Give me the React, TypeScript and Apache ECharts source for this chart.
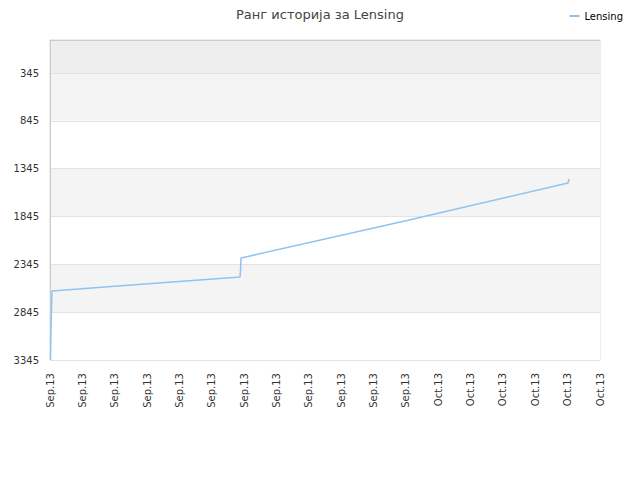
import React, { useEffect, useRef } from "react";
import * as echarts from "echarts";

const xLabels = [
  "Sep.13", "Sep.13", "Sep.13", "Sep.13", "Sep.13", "Sep.13",
  "Sep.13", "Sep.13", "Sep.13", "Sep.13", "Sep.13", "Sep.13",
  "Oct.13", "Oct.13", "Oct.13", "Oct.13", "Oct.13", "Oct.13",
];
const yTicks = [345, 845, 1345, 1845, 2345, 2845, 3345];
const seriesX = [0.015, 0.03, 0.06, 2.1, 5.873, 5.888, 5.904, 11.0, 16.011, 16.042];
const seriesRank = [3345, 3040, 2624, 2572, 2477, 2415, 2279, 1890, 1495, 1453];

export default function App() {
  const ref = useRef<HTMLDivElement>(null);
  useEffect(() => {
    const chart = echarts.init(ref.current!, undefined, { renderer: "svg" });
    chart.setOption({
      animation: false,
      title: {
        text: "Ранг историја за Lensing",
        left: "center",
        top: 3,
        textStyle: { fontFamily: "DejaVu Sans", fontSize: 13, fontWeight: "normal", color: "#444" },
      },
      legend: {
        right: 12,
        top: 6,
        icon: "rect",
        itemWidth: 10,
        itemHeight: 2,
        itemGap: 5,
        textStyle: { fontFamily: "DejaVu Sans", fontSize: 10, color: "#000" },
        data: ["Lensing"],
      },
      grid: { left: 50, right: 40, top: 40, bottom: 120, show: true, borderColor: "#ddd", borderWidth: 1, backgroundColor: "transparent" },
      xAxis: {
        type: "value",
        min: 0,
        max: xLabels.length - 1,
        interval: 1,
        axisLine: { show: true, lineStyle: { color: "#ccc" } },
        axisTick: { show: false },
        splitLine: { show: false },
        axisLabel: {
          rotate: 90,
          margin: 13,
          fontFamily: "DejaVu Sans",
          fontSize: 10,
          color: "#333",
          formatter: (v: number) => xLabels[Math.round(v)] ?? "",
        },
      },
      yAxis: {
        type: "value",
        inverse: true,
        min: 0,
        max: 3345,
        axisLine: { show: true, lineStyle: { color: "#ccc" } },
        axisTick: { show: false, customValues: [0, ...yTicks] },
        axisLabel: {
          customValues: yTicks,
          margin: 11,
          fontFamily: "DejaVu Sans",
          fontSize: 10,
          color: "#333",
          formatter: (v: number) => String(v),
        },
        splitLine: { show: true, lineStyle: { color: "#e3e3e3" } },
        splitArea: {
          show: true,
          areaStyle: { color: ["#eeeeee", "#f4f4f4", "#ffffff", "#f4f4f4", "#ffffff", "#f4f4f4", "#ffffff"] },
        },
      },
      series: [
        {
          name: "Lensing",
          type: "line",
          data: seriesX.map((x, i) => [x, seriesRank[i]]),
          showSymbol: false,
          lineStyle: { color: "#90c3f0", width: 1.5 },
          itemStyle: { color: "#90c3f0" },
        },
      ],
    });
    return () => chart.dispose();
  }, []);
  return <div ref={ref} style={{ width: 640, height: 480, position: "absolute", left: 0, top: 0 }} />;
}
